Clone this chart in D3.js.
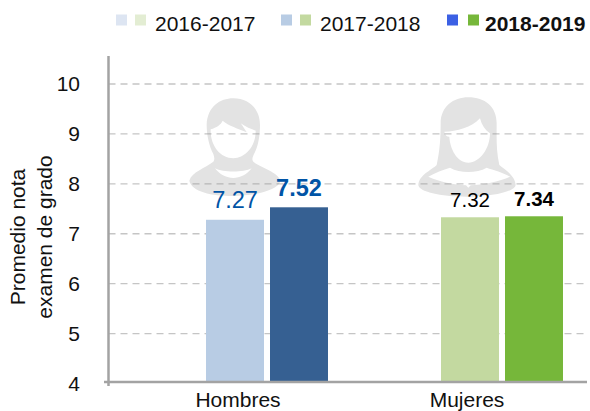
<!DOCTYPE html>
<html>
<head>
<meta charset="utf-8">
<script src="https://cdn.jsdelivr.net/npm/d3@7"></script>
<style>
    html, body { margin: 0; padding: 0; background: #fff; }
    svg { display: block; }
    text { font-family: "Liberation Sans", Arial, sans-serif; fill: #111; }
</style>
</head>
<body>
<div id="chart"></div>
<script>
// chart values
const categories = ["Hombres", "Mujeres"];
const seriesNames = ["2016-2017", "2017-2018", "2018-2019"];
const values2016 = [null, null];
const values2017 = [7.27, 7.32];
const values2018 = [7.52, 7.34];
const yTicks = [4, 5, 6, 7, 8, 9, 10];
const axisTitleLines = ["Promedio nota", "examen de grado"];

// colours per series: [Hombres, Mujeres]
const seriesColors = [
    ["#dde5f2", "#e3edd3"],
    ["#b8cce4", "#c3d9a0"],
    ["#366092", "#76b73a"]
];
const legendColors = [
    ["#dde5f2", "#e3edd3"],
    ["#b8cce4", "#c3d9a0"],
    ["#3b60e4", "#76b73a"]
];
const labelColors = ["#0054a6", "#000000"];

const width = 590;
const height = 411;
const axisX = 108.5;

const svg = d3.select("#chart")
    .append("svg")
    .attr("width", width)
    .attr("height", height);

const y = d3.scaleLinear().domain([4, 10]).range([383, 83.5]);
const x0 = d3.scaleBand().domain(categories).range([117.5, 587.5]);
const x1 = d3.scaleBand().domain(seriesNames).range([0, x0.bandwidth()])
    .paddingInner(0.094).paddingOuter(0.383);
const xLabel = d3.scalePoint().domain(categories).range([238, 467]);

// people silhouettes behind the grid, traced at 3x
const icons = svg.append("g").attr("fill", "#e3e3e3").attr("fill-rule", "evenodd");

icons.append("path")
    .attr("transform", "translate(190,90) scale(0.3333)")
    .attr("d",
    "M-2,272 C5,245 45,235 70,215 C74,210 74,205 70,192 C58,170 50,135 50,105 " +
    "C52,50 90,25 130,25 C175,25 210,55 210,105 C210,135 205,170 192,192 C186,205 186,210 190,215 " +
    "C215,235 262,245 272,272 C265,300 195,318 130,318 C65,318 5,305 -2,272 Z " +
    "M62,118 C80,112 92,105 98,92 C115,108 145,115 170,127 C165,118 158,108 152,100 " +
    "C165,110 185,118 197,122 C198,170 165,205 130,205 C90,205 60,165 62,118 Z " +
    "M75,235 C100,248 160,248 185,235 C170,255 150,264 130,264 C110,264 90,255 75,235 Z");

icons.append("path")
    .attr("transform", "translate(400,90) scale(0.3333)")
    .attr("d",
    "M122,100 C122,50 160,22 205,22 C255,22 290,50 290,100 C290,140 288,180 298,225 " +
    "C315,240 345,255 347,285 C345,305 280,320 200,320 C120,320 57,305 55,285 " +
    "C57,255 95,240 110,225 C120,180 122,140 122,100 Z " +
    "M133,125 C170,125 215,112 240,85 C245,105 255,120 270,130 C270,175 240,218 205,218 " +
    "C170,218 150,175 148,140 C140,140 135,135 133,125 Z " +
    "M85,260 C105,248 130,240 150,233 C165,242 185,246 205,246 C225,246 245,242 260,233 " +
    "C280,240 310,248 330,260 C300,275 245,284 212,286 L205,293 L198,286 C165,284 115,275 85,260 Z");

// dashed grid
const grid = svg.append("g")
    .attr("transform", `translate(${axisX},0)`)
    .call(d3.axisLeft(y).tickValues(yTicks.slice(1)).tickSize(-(587 - axisX)).tickFormat(""));
grid.select(".domain").remove();
grid.selectAll("line")
    .attr("stroke", "#8c8c8c")
    .attr("stroke-opacity", 0.5)
    .attr("stroke-width", 1.3)
    .attr("stroke-dasharray", "7 5");

// bars
const seriesValues = [values2016, values2017, values2018];
const barData = [];
seriesNames.forEach((name, s) => {
    categories.forEach((cat, c) => {
        if (seriesValues[s][c] !== null) {
            barData.push({ name: name, cat: cat, s: s, c: c, value: seriesValues[s][c] });
        }
    });
});

svg.append("g").selectAll("rect")
    .data(barData)
    .enter()
    .append("rect")
    .attr("x", d => x0(d.cat) + x1(d.name))
    .attr("y", d => y(d.value))
    .attr("width", x1.bandwidth())
    .attr("height", d => y(4) - y(d.value))
    .attr("fill", d => seriesColors[d.s][d.c]);

// value labels
svg.append("g").selectAll("text")
    .data(barData)
    .enter()
    .append("text")
    .attr("x", d => x0(d.cat) + x1(d.name) + x1.bandwidth() / 2)
    .attr("y", d => y(d.value) - (d.c === 0 ? 11.5 : 10))
    .attr("text-anchor", "middle")
    .attr("font-size", d => d.c === 0 ? 23.5 : 20.5)
    .attr("font-weight", d => d.s === 2 ? "bold" : "normal")
    .style("fill", d => labelColors[d.c])
    .text(d => d.value.toFixed(2));

// axis lines
const axisColor = "#a3a3a3";
svg.append("line")
    .attr("x1", axisX).attr("x2", axisX)
    .attr("y1", 56).attr("y2", 386)
    .attr("stroke", axisColor).attr("stroke-width", 2.5);
svg.append("line")
    .attr("x1", 104).attr("x2", 587)
    .attr("y1", 382).attr("y2", 382)
    .attr("stroke", axisColor).attr("stroke-width", 2.5);

// y tick labels
svg.append("g").selectAll("text")
    .data(yTicks)
    .enter()
    .append("text")
    .attr("x", 80)
    .attr("y", d => y(d) + 7.5)
    .attr("text-anchor", "end")
    .attr("font-size", 21)
    .text(d => d);

// category labels
svg.append("g").selectAll("text")
    .data(categories)
    .enter()
    .append("text")
    .attr("x", d => xLabel(d))
    .attr("y", 406.5)
    .attr("text-anchor", "middle")
    .attr("font-size", 21)
    .text(d => d);

// y axis title
axisTitleLines.forEach((line, i) => {
    svg.append("text")
        .attr("transform", `translate(${25 + i * 27},237) rotate(-90)`)
        .attr("text-anchor", "middle")
        .attr("font-size", 21)
        .text(line);
});

// legend
const legendX = [116, 281, 447];
const legendGap = [19, 19, 21];
const legendTextX = [155, 320, 485];
seriesNames.forEach((name, s) => {
    legendColors[s].forEach((color, c) => {
        svg.append("rect")
            .attr("x", legendX[s] + c * legendGap[s])
            .attr("y", 14.5)
            .attr("width", 11)
            .attr("height", 11)
            .attr("fill", color);
    });
    svg.append("text")
        .attr("x", legendTextX[s])
        .attr("y", 30.5)
        .attr("font-size", 21)
        .attr("font-weight", s === 2 ? "bold" : "normal")
        .text(name);
});
</script>
</body>
</html>
